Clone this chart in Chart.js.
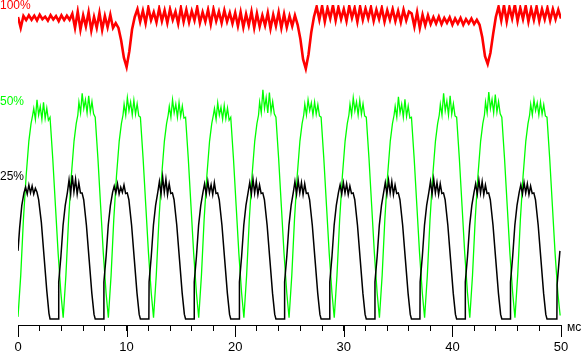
<!DOCTYPE html>
<html>
<head>
<meta charset="utf-8">
<script src="https://cdn.jsdelivr.net/npm/chart.js@4/dist/chart.umd.min.js"></script>
<style>
  html, body { margin: 0; padding: 0; background: #fff; }
  canvas { display: block; }
</style>
</head>
<body>
<canvas id="grafico" width="583" height="351"></canvas>
<script>
// x ticks (ms) and level labels
const xMajor = [0, 10, 20, 30, 40, 50];
const levelText = ['100%', '50%', '25%'];
const levelValue = [100, 50, 25];

// black curve, [ms, %]
const blackPts = [
  [0,12],[0.15,16],[0.35,20],[0.55,22.2],[0.7,23.2],[0.85,22.0],[1.0,23.6],[1.15,22.2],[1.3,23.4],[1.45,22.0],[1.6,23.0],[1.75,22.3],[1.9,21],[2.15,17],[2.4,11],[2.65,5],[2.85,1],
  [2.95,0],[3.73,0],[3.75,6.5],[3.95,11],[4.15,16.5],[4.35,20],[4.55,22.3],[4.7,24.5],[4.85,22.0],[5.0,25.3],[5.15,22.4],[5.3,24.6],[5.45,22.0],[5.6,24.0],[5.75,22.2],[5.9,22.2],[6.05,21],[6.3,16.5],[6.55,10.5],[6.8,4.5],[7.0,0.8],
  [7.11,0],[7.89,0],[7.91,6.5],[8.11,11],[8.31,16.5],[8.51,20],[8.71,22.3],[8.86,23.4],[9.01,22.2],[9.16,23.8],[9.31,22.0],[9.46,23.2],[9.61,22.3],[9.76,23.6],[9.91,22.1],[10.06,22.2],[10.21,21],[10.46,16.5],[10.71,10.5],[10.96,4.5],[11.16,0.8],
  [11.27,0],[12.05,0],[12.07,6.5],[12.27,11],[12.47,16.5],[12.67,20],[12.87,22.3],[13.02,24.2],[13.17,22.0],[13.32,25.0],[13.47,22.3],[13.62,24.6],[13.77,21.9],[13.92,23.8],[14.07,22.1],[14.22,22.2],[14.37,21],[14.62,16.5],[14.87,10.5],[15.12,4.5],[15.32,0.8],
  [15.43,0],[16.21,0],[16.23,6.5],[16.43,11],[16.63,16.5],[16.83,20],[17.03,22.3],[17.18,23.8],[17.33,22.0],[17.48,24.2],[17.63,22.2],[17.78,23.6],[17.93,21.9],[18.08,24.0],[18.23,22.1],[18.38,22.2],[18.53,21],[18.78,16.5],[19.03,10.5],[19.28,4.5],[19.48,0.8],
  [19.59,0],[20.37,0],[20.39,6.5],[20.59,11],[20.79,16.5],[20.99,20],[21.19,22.3],[21.34,24.0],[21.49,22.0],[21.64,24.6],[21.79,22.2],[21.94,24.2],[22.09,21.9],[22.24,23.6],[22.39,22.1],[22.54,22.2],[22.69,21],[22.94,16.5],[23.19,10.5],[23.44,4.5],[23.64,0.8],
  [23.75,0],[24.53,0],[24.55,6.5],[24.75,11],[24.95,16.5],[25.15,20],[25.35,22.3],[25.5,24.2],[25.65,22.0],[25.8,24.4],[25.95,22.2],[26.1,24.0],[26.25,21.9],[26.4,23.8],[26.55,22.1],[26.7,22.2],[26.85,21],[27.1,16.5],[27.35,10.5],[27.6,4.5],[27.8,0.8],
  [27.91,0],[28.69,0],[28.71,6.5],[28.91,11],[29.11,16.5],[29.31,20],[29.51,22.3],[29.66,23.6],[29.81,22.0],[29.96,24.0],[30.11,22.2],[30.26,23.8],[30.41,21.9],[30.56,23.4],[30.71,22.1],[30.86,22.2],[31.01,21],[31.26,16.5],[31.51,10.5],[31.76,4.5],[31.96,0.8],
  [32.07,0],[32.85,0],[32.87,6.5],[33.07,11],[33.27,16.5],[33.47,20],[33.67,22.3],[33.82,24.0],[33.97,22.0],[34.12,24.4],[34.27,22.2],[34.42,24.2],[34.57,21.9],[34.72,23.6],[34.87,22.1],[35.02,22.2],[35.17,21],[35.42,16.5],[35.67,10.5],[35.92,4.5],[36.12,0.8],
  [36.23,0],[37.01,0],[37.03,6.5],[37.23,11],[37.43,16.5],[37.63,20],[37.83,22.3],[37.98,24.2],[38.13,22.0],[38.28,24.6],[38.43,22.2],[38.58,24.0],[38.73,21.9],[38.88,23.8],[39.03,22.1],[39.18,22.2],[39.33,21],[39.58,16.5],[39.83,10.5],[40.08,4.5],[40.28,0.8],
  [40.39,0],[41.17,0],[41.19,6.5],[41.39,11],[41.59,16.5],[41.79,20],[41.99,22.3],[42.14,23.8],[42.29,22.0],[42.44,24.4],[42.59,22.2],[42.74,24.2],[42.89,21.9],[43.04,23.6],[43.19,22.1],[43.34,22.2],[43.49,21],[43.74,16.5],[43.99,10.5],[44.24,4.5],[44.44,0.8],
  [44.55,0],[45.33,0],[45.35,6.5],[45.55,11],[45.75,16.5],[45.95,20],[46.15,22.3],[46.3,23.6],[46.45,22.0],[46.6,24.0],[46.75,22.2],[46.9,23.8],[47.05,21.9],[47.2,23.4],[47.35,22.1],[47.5,22.2],[47.65,21],[47.9,16.5],[48.15,10.5],[48.4,4.5],[48.6,0.8],
  [48.71,0],[49.62,0],[49.64,6],[49.9,12]
];

// green curve, [ms, %]
const greenPts = [
  [0,0.5],[0.25,10],[0.5,23],[0.75,33],[1.0,41],[1.2,45],[1.35,47],[1.45,48.5],[1.6,46],[1.75,50.5],[1.9,47],[2.05,49],[2.2,46],[2.35,49.9],[2.5,46.2],[2.65,48.6],[2.8,45.8],[2.95,46.5],[3.2,37],[3.45,26],[3.7,15],[3.95,6],
  [4.16,0.3],[4.41,10],[4.66,23],[4.91,33],[5.16,41],[5.36,45],[5.51,47],[5.61,50],[5.76,47.5],[5.91,52],[6.06,48.5],[6.21,50.5],[6.36,47.5],[6.51,51.4],[6.66,47.7],[6.81,50.1],[6.96,47.3],[7.11,46.5],[7.36,37],[7.61,26],[7.86,15],[8.11,6],
  [8.32,0.3],[8.57,10],[8.82,23],[9.07,33],[9.32,41],[9.52,45],[9.67,47],[9.77,49.5],[9.92,47],[10.07,51],[10.22,48],[10.37,50],[10.52,47],[10.67,50.4],[10.82,47.2],[10.97,49.6],[11.12,46.8],[11.27,46.5],[11.52,37],[11.77,26],[12.02,15],[12.27,6],
  [12.48,0.3],[12.73,10],[12.98,23],[13.23,33],[13.48,41],[13.68,45],[13.83,47],[13.93,49],[14.08,46.5],[14.23,50.5],[14.38,47.5],[14.53,49.5],[14.68,46.5],[14.83,49.9],[14.98,46.7],[15.13,49.1],[15.28,46.3],[15.43,46.5],[15.68,37],[15.93,26],[16.18,15],[16.43,6],
  [16.64,0.3],[16.89,10],[17.14,23],[17.39,33],[17.64,41],[17.84,45],[17.99,47],[18.09,48.5],[18.24,46],[18.39,49.8],[18.54,47],[18.69,48.8],[18.84,46],[18.99,49.2],[19.14,46.2],[19.29,48.6],[19.44,45.8],[19.59,46.5],[19.84,37],[20.09,26],[20.34,15],[20.59,6],
  [20.8,0.3],[21.05,10],[21.3,23],[21.55,33],[21.8,41],[22.0,45],[22.15,47],[22.25,50],[22.4,47.5],[22.55,52.8],[22.7,48.5],[22.85,51],[23.0,47.5],[23.15,52.2],[23.3,47.7],[23.45,50.1],[23.6,47.3],[23.75,46.5],[24.0,37],[24.25,26],[24.5,15],[24.75,6],
  [24.96,0.3],[25.21,10],[25.46,23],[25.71,33],[25.96,41],[26.16,45],[26.31,47],[26.41,49.5],[26.56,47],[26.71,50.5],[26.86,48],[27.01,49.8],[27.16,47],[27.31,50],[27.46,47.2],[27.61,49.4],[27.76,46.8],[27.91,46.5],[28.16,37],[28.41,26],[28.66,15],[28.91,6],
  [29.12,0.3],[29.37,10],[29.62,23],[29.87,33],[30.12,41],[30.32,45],[30.47,47],[30.57,49.5],[30.72,47],[30.87,51],[31.02,48],[31.17,50],[31.32,47],[31.47,50.4],[31.62,47.2],[31.77,49.6],[31.92,46.8],[32.07,46.5],[32.32,37],[32.57,26],[32.82,15],[33.07,6],
  [33.28,0.3],[33.53,10],[33.78,23],[34.03,33],[34.28,41],[34.48,45],[34.63,47],[34.73,49],[34.88,46.5],[35.03,51.2],[35.18,47.5],[35.33,49.5],[35.48,46.5],[35.63,50.6],[35.78,46.7],[35.93,49.1],[36.08,46.3],[36.23,46.5],[36.48,37],[36.73,26],[36.98,15],[37.23,6],
  [37.44,0.3],[37.69,10],[37.94,23],[38.19,33],[38.44,41],[38.64,45],[38.79,47],[38.89,49.5],[39.04,47],[39.19,52],[39.34,48],[39.49,50.2],[39.64,47],[39.79,51.4],[39.94,47.2],[40.09,49.6],[40.24,46.8],[40.39,46.5],[40.64,37],[40.89,26],[41.14,15],[41.39,6],
  [41.6,0.3],[41.85,10],[42.1,23],[42.35,33],[42.6,41],[42.8,45],[42.95,47],[43.05,50],[43.2,47.5],[43.35,52.3],[43.5,48.5],[43.65,50.6],[43.8,47.5],[43.95,51.7],[44.1,47.7],[44.25,50.1],[44.4,47.3],[44.55,46.5],[44.8,37],[45.05,26],[45.3,15],[45.55,6],
  [45.76,0.3],[46.01,10],[46.26,23],[46.51,33],[46.76,41],[46.96,45],[47.11,47],[47.21,49.5],[47.36,47],[47.51,50.5],[47.66,48],[47.81,49.8],[47.96,47],[48.11,50],[48.26,47.2],[48.41,49.4],[48.56,46.8],[48.71,46.5],[48.96,37],[49.21,26],[49.46,15],[49.71,6],
  [49.92,0.8]
];

// red curve, one value every 0.25 ms
const redStep = 0.25;
const redVals = [
  96.5, 93.0, 96.8, 95.5, 97.0, 95.6, 96.9, 95.4, 97.2, 95.8, 96.6, 95.3, 97.1, 95.7, 96.8, 95.2, 97.0, 95.5, 96.9, 95.6,
  97.5, 93.0, 98.2, 92.5, 97.0, 93.5, 98.0, 92.2, 96.5, 93.0, 97.8, 92.4, 96.8, 93.2, 97.2, 93.0,
  94.5, 93.0, 89.0, 83.5, 80.5, 85.5, 92.5, 96.5,
  99.0, 95.0, 98.5, 94.5, 99.5, 95.5, 98.0, 94.8, 99.2, 95.2, 98.6, 94.6, 99.0, 95.6, 98.2, 94.4, 99.4, 95.0,
  98.8, 94.8, 98.4, 95.4, 99.6, 94.6, 98.0, 95.0, 98.8, 94.2, 99.0, 95.2, 98.2, 94.6, 98.6, 95.0, 97.8, 94.4,
  97.8, 93.6, 98.0, 93.2, 97.4, 93.8, 98.2, 93.0, 97.6, 93.4, 97.0, 93.8, 97.8, 92.8, 97.2, 93.6, 98.0, 93.0, 97.4, 93.2, 96.8, 93.6, 97.0,
  94.0, 89.5, 83.0, 80.0, 84.5, 91.5, 96.5,
  99.8, 95.6, 100.0, 95.0, 99.4, 96.0, 100.2, 95.4, 99.6, 95.8, 99.0, 95.2, 100.0, 96.2, 99.4, 95.0, 99.8, 95.6,
  99.2, 96.0, 99.6, 95.2, 98.8, 95.8, 99.4, 95.0, 98.6, 95.6, 99.0, 95.2, 98.4, 94.8, 98.8, 95.4, 98.2,
  97.6, 93.4, 98.0, 93.0, 97.2, 93.8, 97.0, 94.2, 96.4, 94.4, 96.6, 94.2, 96.2, 94.6, 96.4, 94.0, 96.0, 94.4, 96.2, 94.0, 95.8, 94.4, 96.0, 94.2, 95.6,
  94.0, 90.0, 84.0, 81.5, 85.0, 91.0, 96.5,
  99.8, 95.4, 100.2, 95.0, 99.6, 96.0, 100.4, 95.2, 99.4, 95.8, 100.0, 95.0, 99.2, 95.6, 99.8, 95.2, 99.0, 95.8, 99.4, 95.4, 99.0, 95.8, 98.8, 96.0
];

const FONT = 'Arial, "Liberation Sans", sans-serif';
const toXY = pts => pts.map(p => ({ x: p[0], y: p[1] }));
const redData = redVals.map((v, i) => ({ x: i * redStep, y: v }));

// draws level labels, long ticks and unit
const extrasPlugin = {
    id: 'extras',
    afterDraw(chart) {
        const ctx = chart.ctx;
        const xs = chart.scales.x;
        const axes = ['yR', 'yG', 'yK'];
        const colors = ['#ff0000', '#00ff00', '#000000'];
        ctx.save();
        ctx.font = '12px ' + FONT;
        ctx.textAlign = 'left';
        ctx.textBaseline = 'middle';
        levelText.forEach((t, i) => {
            ctx.fillStyle = colors[i];
            ctx.fillText(t, 0, chart.scales[axes[i]].getPixelForValue(levelValue[i]));
        });
        ctx.strokeStyle = '#000';
        ctx.lineWidth = 1;
        xMajor.forEach(v => {
            const px = Math.round(xs.getPixelForValue(v)) + 0.5;
            ctx.beginPath();
            ctx.moveTo(px, xs.top);
            ctx.lineTo(px, xs.top + 12);
            ctx.stroke();
        });
        ctx.fillStyle = '#000';
        ctx.fillText('мс', xs.right + 6, xs.top + 3);
        ctx.restore();
    }
};

const ctx = document.getElementById('grafico').getContext('2d');
var chart = new Chart(ctx, {
    type: 'line',
    data: {
        datasets: [
            { data: toXY(blackPts), yAxisID: 'yK', borderColor: '#000000', borderWidth: 1.5 },
            { data: toXY(greenPts), yAxisID: 'yG', borderColor: '#00ff00', borderWidth: 1.3 },
            { data: redData, yAxisID: 'yR', borderColor: '#ff0000', borderWidth: 2.6 }
        ]
    },
    options: {
        responsive: false,
        animation: false,
        events: [],
        layout: { padding: { left: 18, right: 22, top: 5, bottom: 0 } },
        elements: { point: { radius: 0 }, line: { tension: 0 } },
        plugins: { legend: { display: false }, tooltip: { enabled: false } },
        scales: {
            x: {
                type: 'linear',
                min: 0,
                max: 50,
                border: { display: true, color: '#000', width: 1 },
                grid: { drawOnChartArea: false, drawTicks: true, tickLength: 6, color: '#000' },
                ticks: {
                    stepSize: 2,
                    autoSkip: false,
                    maxRotation: 0,
                    padding: 9,
                    color: '#000',
                    font: { family: FONT, size: 13 },
                    callback: function(value) {
                        return value % 10 === 0 ? value : '';
                    }
                },
                afterFit: function(scale) { scale.height = 26; }
            },
            yK: { display: false, min: -1.06, max: 55.28 },
            yG: { display: false, min: -1.38, max: 72.35 },
            yR: { display: false, min: -1.92, max: 100.32 }
        }
    },
    plugins: [extrasPlugin]
});
</script>
</body>
</html>
